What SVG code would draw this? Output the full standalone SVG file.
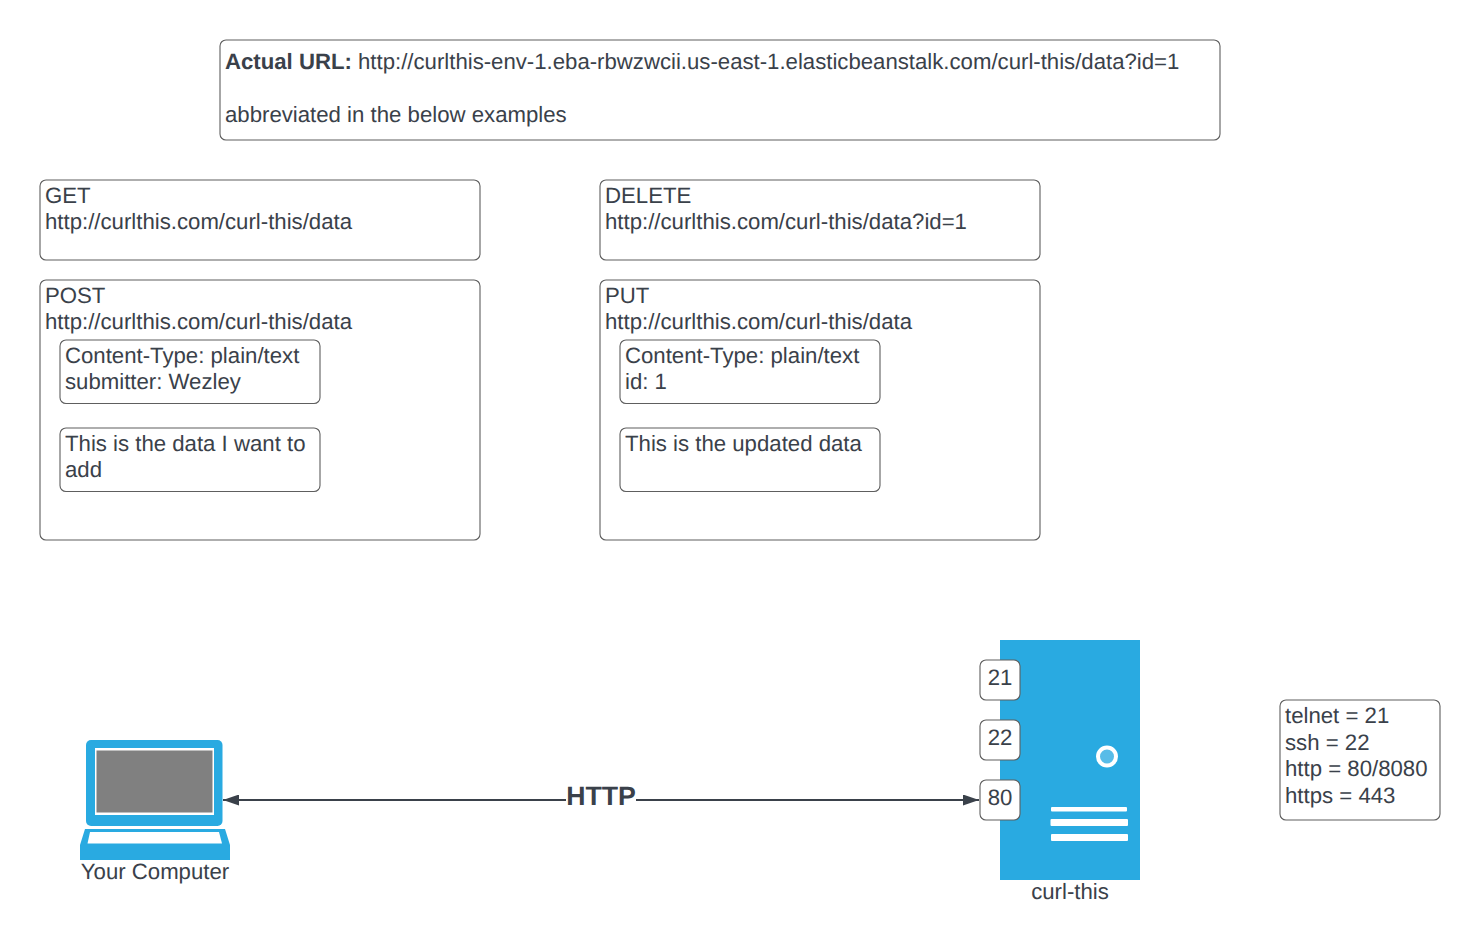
<svg xmlns="http://www.w3.org/2000/svg" width="1480" height="950" viewBox="0 0 1480 950">
<style>
text{font-family:"Liberation Sans",Arial,sans-serif;font-size:22.2px;fill:#3a414a;text-rendering:geometricPrecision}
.b{fill:#fff;stroke:#5e5e5e;stroke-width:1.1}
.m{text-anchor:middle}
.c{fill:#29aae1}
.w{fill:#fff}
.l{fill:none;stroke:#3a414a;stroke-width:2}
</style>
<defs>
<marker id="a" markerUnits="userSpaceOnUse" markerWidth="16" markerHeight="11" refX="16" refY="5.500" orient="auto-start-reverse"><path d="M0 0L16 5.500L0 11Z" fill="#3a414a"/></marker>
</defs>
<rect width="1480" height="950" fill="#fff"/>
<g id="url"><rect class="b" x="220" y="40" width="1000" height="100" rx="6"/>
<text x="225" y="68.500" style="font-size:22.180px"><tspan font-weight="700">Actual URL:</tspan> http://curlthis-env-1.eba-rbwzwcii.us-east-1.elasticbeanstalk.com/curl-this/data?id=1</text>
<text x="225" y="121.500">abbreviated in the below examples</text></g>
<g id="get"><rect class="b" x="40" y="180" width="440" height="80" rx="6"/>
<text x="45" y="203">GET</text><text x="45" y="229">http://curlthis.com/curl-this/data</text></g>
<g id="delete"><rect class="b" x="600" y="180" width="440" height="80" rx="6"/>
<text x="605" y="203">DELETE</text><text x="605" y="229">http://curlthis.com/curl-this/data?id=1</text></g>
<g id="post"><rect class="b" x="40" y="280" width="440" height="260" rx="6"/>
<text x="45" y="303">POST</text><text x="45" y="329">http://curlthis.com/curl-this/data</text></g>
<g id="post-headers"><rect class="b" x="60" y="340" width="260" height="63.500" rx="6"/>
<text x="65" y="363">Content-Type: plain/text</text><text x="65" y="389">submitter: Wezley</text></g>
<g id="post-body"><rect class="b" x="60" y="428" width="260" height="63.500" rx="6"/>
<text x="65" y="451">This is the data I want to</text><text x="65" y="477">add</text></g>
<g id="put"><rect class="b" x="600" y="280" width="440" height="260" rx="6"/>
<text x="605" y="303">PUT</text><text x="605" y="329">http://curlthis.com/curl-this/data</text></g>
<g id="put-headers"><rect class="b" x="620" y="340" width="260" height="63.500" rx="6"/>
<text x="625" y="363">Content-Type: plain/text</text><text x="625" y="389">id: 1</text></g>
<g id="put-body"><rect class="b" x="620" y="428" width="260" height="63.500" rx="6"/>
<text x="625" y="451">This is the updated data</text></g>
<g id="computer">
<rect class="c" x="86" y="740" width="136.500" height="86" rx="5"/>
<rect class="w" x="95" y="748" width="119" height="67"/>
<rect x="96.500" y="750.500" width="116" height="62" fill="#808080"/>
<path class="c" d="M85 829H225L230 845V860H80V845Z"/>
<path class="w" d="M90 832H219L222 843.500H87.500Z"/>
<text class="m" x="155" y="879">Your Computer</text></g>
<g id="server">
<rect class="c" x="1000" y="640" width="140" height="240"/>
<circle cx="1107" cy="756.500" r="9" fill="#58bce8" stroke="#fff" stroke-width="4"/>
<rect class="w" x="1051" y="807" width="76" height="4.500" rx="1"/>
<rect class="w" x="1050.500" y="819" width="77.500" height="7" rx="1"/>
<rect class="w" x="1051" y="834" width="77" height="7" rx="1"/>
<text class="m" x="1070" y="899">curl-this</text></g>
<g id="port-21"><rect class="b" x="980" y="660" width="40" height="40" rx="6"/><text class="m" x="1000" y="685">21</text></g>
<g id="port-22"><rect class="b" x="980" y="720" width="40" height="40" rx="6"/><text class="m" x="1000" y="745">22</text></g>
<g id="port-80"><rect class="b" x="980" y="780" width="40" height="40" rx="6"/><text class="m" x="1000" y="805">80</text></g>
<g id="ports-legend"><rect class="b" x="1280" y="700" width="160" height="120" rx="6"/>
<text x="1285" y="723">telnet = 21</text><text x="1285" y="750">ssh = 22</text><text x="1285" y="776">http = 80/8080</text><text x="1285" y="803">https = 443</text></g>
<g id="connectors">
<path class="l" d="M223 800H566M636 800H979" marker-start="url(#a)" marker-end="url(#a)"/>
<text class="m" x="601" y="805" font-weight="700" style="font-size:26.700px">HTTP</text>
</g>
</svg>
